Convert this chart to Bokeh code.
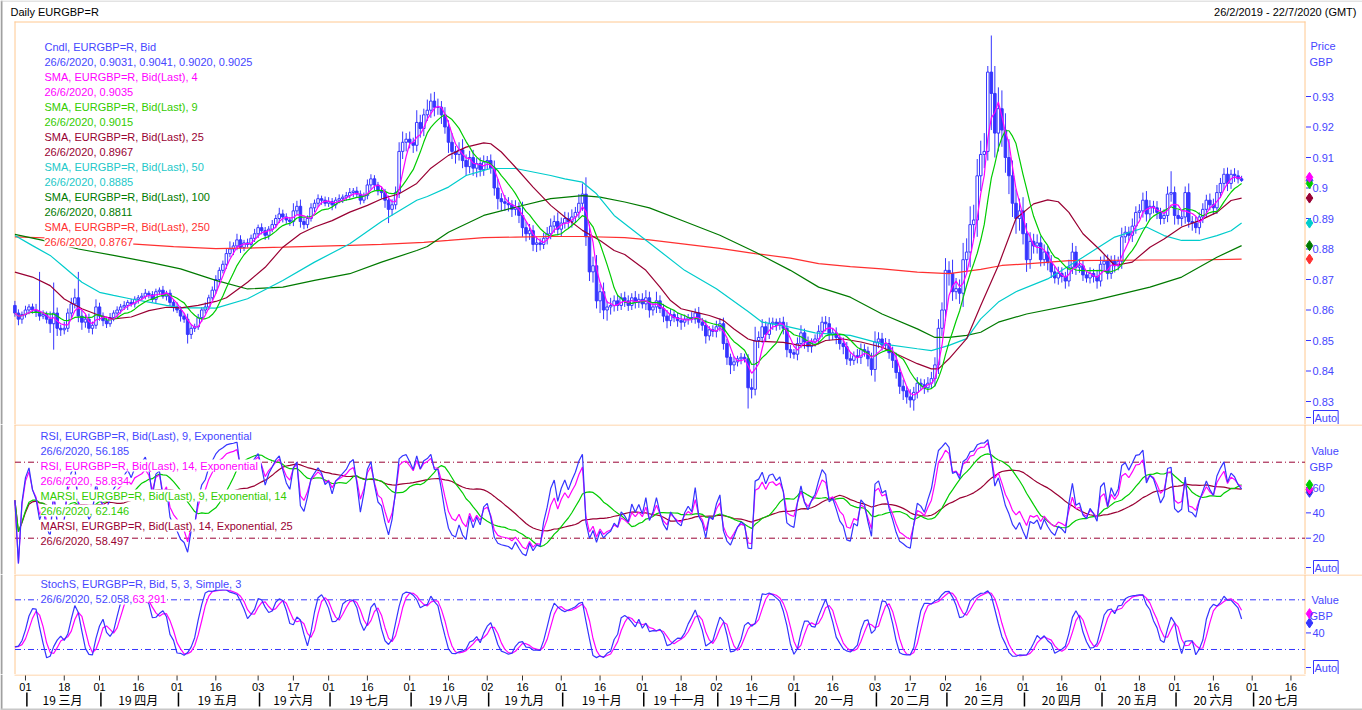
import numpy as np
import pandas as pd
from bokeh.plotting import figure
from bokeh.layouts import column
from bokeh.models import Range1d, Label, ColumnDataSource
from bokeh.core.properties import value
from bokeh.embed import file_html
from bokeh.resources import INLINE

# ---------------------------------------------------------------- data
first_date = "2019-02-26"
last_axis_date = "2020-07-22"
first_open_pips = 8615

# daily closes, EURGBP, in 1/10000 GBP (26/2/2019 .. 26/6/2020)
closes_pips = [
    8590, 8570, 8585, 8600, 8610, 8600, 8595, 8580, 8585, 8570,
    8555, 8590, 8540, 8535, 8540, 8590, 8620, 8640, 8580, 8560,
    8570, 8540, 8550, 8610, 8580, 8565, 8555, 8575, 8590, 8600,
    8610, 8615, 8625, 8620, 8635, 8640, 8645, 8655, 8650, 8635,
    8660, 8665, 8645, 8655, 8625, 8610, 8600, 8580, 8570, 8520,
    8540, 8545, 8575, 8600, 8610, 8640, 8665, 8700, 8730, 8750,
    8785, 8800, 8810, 8830, 8805, 8820, 8815, 8835, 8850, 8870,
    8860, 8845, 8865, 8880, 8900, 8915, 8905, 8895, 8890, 8925,
    8940, 8890, 8880, 8900, 8935, 8950, 8965, 8960, 8950, 8955,
    8945, 8960, 8965, 8970, 8975, 8985, 8990, 8980, 8960, 8975,
    9010, 9030, 9010, 8990, 8985, 8960, 8930, 8945, 8985, 9120,
    9150, 9160, 9150, 9140, 9215, 9195, 9240, 9255, 9285, 9265,
    9265, 9240, 9200, 9150, 9120, 9110, 9125, 9090, 9070, 9100,
    9065, 9080, 9060, 9085, 9090, 9065, 9000, 8965, 8955, 8950,
    8945, 8930, 8935, 8910, 8870, 8850, 8860, 8815, 8820, 8815,
    8835, 8850, 8875, 8890, 8865, 8885, 8900, 8890, 8905, 8920,
    8950, 8980, 8840, 8725, 8745, 8630, 8660, 8600, 8610, 8615,
    8630, 8615, 8640, 8630, 8615, 8640, 8625, 8635, 8620, 8640,
    8600, 8610, 8630, 8605, 8580, 8565, 8585, 8575, 8565, 8560,
    8570, 8575, 8570, 8590, 8560, 8550, 8515, 8535, 8530, 8545,
    8555, 8490, 8445, 8420, 8430, 8440, 8445, 8440, 8345, 8340,
    8500, 8510, 8545, 8520, 8555, 8560, 8550, 8560, 8540, 8470,
    8460, 8455, 8490, 8525, 8495, 8480, 8495, 8505, 8530, 8560,
    8555, 8520, 8525, 8510, 8490, 8480, 8440, 8435, 8450, 8445,
    8470, 8465, 8440, 8405, 8495, 8505, 8485, 8490, 8460, 8435,
    8395, 8350, 8335, 8315, 8305, 8330, 8360, 8355, 8345, 8360,
    8375, 8420, 8540, 8600, 8730, 8720, 8660, 8670, 8655, 8765,
    8790, 8880, 8895, 9040, 9110, 9120, 9380, 9310, 9180, 9260,
    9190, 9100, 9040, 8950, 8900, 8925, 8850, 8765, 8825, 8810,
    8820, 8765, 8790, 8755, 8725, 8705, 8720, 8710, 8695, 8740,
    8790, 8740, 8745, 8715, 8705, 8720, 8710, 8695, 8750, 8760,
    8720, 8760, 8745, 8760, 8840, 8855, 8845, 8875, 8920, 8925,
    8960, 8915, 8940, 8935, 8920, 8900, 8910, 8980, 8985, 8910,
    8900, 8905, 8985, 8890, 8885, 8870, 8905, 8930, 8960, 8945,
    8935, 8985, 9015, 9045, 9015, 9045, 9040, 9030, 9025,
]

# upper / lower shadow lengths of each candle, in 1/10000 GBP
wick_up_pips = [
    15, 12, 10, 14, 9, 11, 20, 130, 14, 10,
    25, 100, 18, 12, 22, 15, 20, 30, 85, 20,
    15, 18, 12, 25, 14, 12, 10, 15, 9, 12,
    10, 14, 8, 12, 10, 9, 11, 14, 8, 12,
    10, 9, 14, 8, 12, 10, 15, 12, 10, 18,
    14, 10, 12, 9, 15, 10, 12, 14, 10, 12,
    18, 25, 12, 20, 15, 10, 14, 12, 16, 10,
    14, 12, 10, 15, 12, 20, 14, 12, 10, 25,
    18, 22, 12, 10, 15, 12, 14, 10, 12, 15,
    12, 10, 14, 9, 12, 15, 10, 14, 12, 10,
    18, 15, 12, 10, 14, 12, 15, 18, 20, 30,
    35, 20, 25, 15, 40, 25, 20, 35, 25, 30,
    28, 20, 25, 22, 30, 18, 25, 35, 20, 22,
    25, 18, 20, 22, 15, 20, 25, 30, 18, 22,
    20, 15, 25, 18, 45, 20, 22, 18, 20, 15,
    18, 22, 25, 20, 30, 18, 22, 20, 25, 18,
    30, 35, 55, 40, 30, 35, 25, 30, 20, 25,
    18, 20, 15, 20, 18, 15, 22, 18, 20, 25,
    20, 15, 30, 18, 15, 20, 18, 12, 15, 20,
    15, 12, 18, 15, 20, 14, 18, 12, 15, 20,
    18, 20, 15, 12, 18, 10, 14, 12, 15, 30,
    45, 20, 25, 18, 20, 15, 12, 14, 18, 20,
    15, 12, 20, 25, 14, 18, 12, 15, 20, 18,
    20, 22, 15, 18, 12, 20, 15, 18, 14, 22,
    20, 18, 15, 20, 35, 22, 20, 18, 15, 20,
    25, 20, 22, 15, 25, 18, 20, 15, 18, 20,
    22, 25, 30, 25, 40, 30, 45, 35, 30, 55,
    45, 60, 50, 55, 45, 60, 20, 120, 90, 70,
    60, 55, 60, 50, 45, 40, 45, 35, 30, 25,
    28, 22, 25, 20, 25, 18, 22, 20, 15, 25,
    30, 20, 22, 18, 15, 20, 15, 22, 25, 20,
    22, 18, 20, 15, 30, 20, 18, 25, 20, 22,
    25, 30, 20, 18, 22, 15, 20, 25, 70, 20,
    18, 22, 20, 30, 18, 22, 15, 20, 18, 22,
    20, 25, 18, 20, 22, 15, 20, 18, 10,
]
wick_dn_pips = [
    12, 20, 15, 10, 14, 12, 18, 15, 10, 14,
    30, 85, 25, 20, 15, 12, 18, 15, 20, 25,
    18, 15, 20, 12, 15, 18, 14, 10, 12, 15,
    12, 10, 15, 9, 12, 14, 8, 10, 12, 9,
    12, 10, 8, 14, 12, 15, 10, 18, 12, 30,
    15, 12, 10, 14, 12, 10, 8, 12, 14, 10,
    15, 12, 20, 14, 18, 12, 10, 15, 12, 14,
    12, 15, 14, 10, 12, 15, 18, 12, 14, 15,
    12, 20, 15, 12, 10, 14, 12, 15, 10, 12,
    18, 12, 10, 14, 12, 10, 15, 12, 14, 10,
    12, 15, 18, 14, 20, 25, 45, 20, 15, 18,
    25, 30, 20, 25, 20, 30, 25, 20, 25, 30,
    25, 30, 22, 35, 25, 30, 20, 25, 30, 22,
    25, 30, 22, 20, 25, 18, 25, 35, 30, 25,
    22, 25, 20, 25, 30, 25, 20, 22, 25, 20,
    15, 20, 18, 22, 20, 25, 18, 22, 20, 18,
    20, 25, 30, 30, 35, 25, 40, 30, 35, 25,
    20, 18, 15, 20, 18, 15, 20, 18, 15, 20,
    25, 18, 20, 15, 20, 25, 18, 15, 20, 25,
    15, 18, 12, 15, 20, 18, 25, 15, 18, 20,
    15, 20, 25, 30, 20, 15, 18, 12, 68, 30,
    20, 25, 18, 22, 15, 20, 18, 15, 20, 25,
    18, 15, 20, 15, 22, 18, 20, 15, 18, 20,
    25, 20, 18, 22, 20, 25, 20, 18, 15, 20,
    22, 18, 25, 20, 40, 20, 18, 15, 20, 25,
    20, 25, 30, 22, 25, 35, 20, 18, 20, 15,
    18, 25, 30, 25, 35, 40, 30, 25, 35, 45,
    40, 50, 45, 55, 50, 45, 30, 120, 80, 60,
    55, 50, 60, 45, 50, 40, 35, 40, 30, 25,
    25, 22, 20, 25, 20, 18, 22, 20, 25, 18,
    22, 25, 18, 20, 15, 18, 20, 25, 18, 22,
    20, 18, 22, 15, 25, 20, 18, 22, 25, 20,
    22, 25, 20, 18, 22, 20, 18, 22, 25, 30,
    20, 25, 22, 20, 25, 18, 22, 20, 25, 18,
    22, 20, 18, 22, 25, 18, 20, 15, 5,
]

# long moving averages (trading-day index, value)
sma25_x = [0, 5, 10, 14, 19, 24, 28, 33, 38, 43, 47, 52, 57, 60, 66, 71, 76, 81, 85, 90,
           95, 100, 104, 109, 114, 118, 123, 128, 133, 135, 138, 142, 147, 152, 156, 161, 166, 170, 173, 179,
           183, 186, 189, 193, 197, 201, 204, 208, 210, 218, 223, 227, 230, 235, 240, 246, 251, 256, 260, 262,
           265, 270, 274, 279, 284, 289, 293, 296, 299, 303, 308, 312, 317, 322, 326, 331, 336, 341, 345, 348]
sma25_y = [0.8724, 0.8708, 0.8680, 0.8636, 0.8604, 0.8582, 0.8571, 0.8577, 0.8598, 0.8609,
           0.8607, 0.8615, 0.8628, 0.8640, 0.8691, 0.8740, 0.8806, 0.8850, 0.8872, 0.8893,
           0.8921, 0.8943, 0.8964, 0.8981, 0.9015, 0.9065, 0.9107, 0.9134, 0.9148, 0.9145,
           0.9118, 0.9068, 0.9003, 0.8943, 0.8905, 0.8861, 0.8828, 0.8795, 0.8782, 0.8730,
           0.8675, 0.8631, 0.8604, 0.8593, 0.8582, 0.8566, 0.8538, 0.8505, 0.8498, 0.8494,
           0.8483, 0.8485, 0.8500, 0.8505, 0.8495, 0.8478, 0.8451, 0.8424, 0.8407, 0.8407,
           0.8440, 0.8506, 0.8615, 0.8746, 0.8900, 0.8948, 0.8961, 0.8955, 0.8920, 0.8850,
           0.8795, 0.8746, 0.8757, 0.8806, 0.8833, 0.8872, 0.8893, 0.8920, 0.8959, 0.8967]
sma50_x = [0, 5, 10, 14, 19, 24, 28, 33, 38, 43, 47, 52, 57, 66, 76, 85, 95, 104, 114, 117,
           123, 128, 133, 135, 142, 152, 156, 161, 165, 170, 173, 190, 199, 208, 212, 218, 227, 237, 246, 256,
           260, 265, 270, 274, 279, 284, 293, 303, 312, 321, 326, 331, 336, 341, 345, 348]
sma50_y = [0.8844, 0.8811, 0.8779, 0.8740, 0.8691, 0.8658, 0.8648, 0.8636, 0.8626, 0.8615,
           0.8607, 0.8607, 0.8606, 0.8637, 0.8697, 0.8757, 0.8817, 0.8890, 0.8960, 0.8972,
           0.9003, 0.9041, 0.9058, 0.9064, 0.9064, 0.9041, 0.9030, 0.9019, 0.8981, 0.8910,
           0.8883, 0.8730, 0.8670, 0.8595, 0.8560, 0.8549, 0.8525, 0.8517, 0.8489, 0.8473,
           0.8467, 0.8484, 0.8506, 0.8571, 0.8626, 0.8660, 0.8702, 0.8773, 0.8839, 0.8872,
           0.8844, 0.8828, 0.8828, 0.8844, 0.8860, 0.8885]
sma100_x = [0, 8, 18, 28, 38, 47, 57, 66, 76, 85, 95, 104, 114, 117, 123, 133, 142, 152, 161, 166,
            173, 180, 190, 200, 210, 220, 228, 237, 246, 256, 261, 265, 270, 274, 279, 287, 306, 322, 331, 341,
            348]
sma100_y = [0.8848, 0.8828, 0.8800, 0.8779, 0.8757, 0.8735, 0.8697, 0.8669, 0.8675, 0.8697,
            0.8719, 0.8757, 0.8795, 0.8808, 0.8855, 0.8910, 0.8937, 0.8965, 0.8975, 0.8970,
            0.8954, 0.8935, 0.8890, 0.8845, 0.8790, 0.8730, 0.8675, 0.8642, 0.8587, 0.8538,
            0.8510, 0.8510, 0.8517, 0.8527, 0.8560, 0.8587, 0.8631, 0.8675, 0.8708, 0.8773,
            0.8811]
sma250_x = [0, 10, 20, 33, 45, 57, 76, 95, 104, 116, 123, 133, 142, 152, 161, 173, 180, 190, 200, 210,
            220, 228, 237, 246, 256, 265, 274, 280, 287, 299, 322, 335, 348]
sma250_y = [0.8840, 0.8836, 0.8832, 0.8817, 0.8808, 0.8801, 0.8806, 0.8812, 0.8815, 0.8822,
            0.8828, 0.8837, 0.8839, 0.8841, 0.8841, 0.8837, 0.8830, 0.8816, 0.8802, 0.8785,
            0.8770, 0.8752, 0.8742, 0.8735, 0.8724, 0.8719, 0.8733, 0.8746, 0.8751, 0.8762,
            0.8764, 0.8764, 0.8767]

# last values shown in the legends / right-hand markers
main_last = {"cndl": 0.9025, "sma4": 0.9035, "sma9": 0.9015, "sma25": 0.8967,
             "sma50": 0.8885, "sma100": 0.8811, "sma250": 0.8767}
rsi_last = {"rsi9": 56.185, "rsi14": 58.834, "marsi9": 62.146, "marsi14": 58.497}
stoch_last = {"k": 52.058, "d": 63.291}

price_ticks = [0.83, 0.84, 0.85, 0.86, 0.87, 0.88, 0.89, 0.90, 0.91, 0.92, 0.93]
price_tick_labels = ["0.83", "0.84", "0.85", "0.86", "0.87", "0.88", "0.89", "0.9", "0.91", "0.92", "0.93"]
rsi_ticks = [20, 40, 60]
rsi_tick_labels = ["20", "40", "60"]
rsi_levels = [80, 20]
stoch_ticks = [40]
stoch_tick_labels = ["40"]
stoch_levels = [80, 20]
month_labels = ["19 三月", "19 四月", "19 五月", "19 六月", "19 七月", "19 八月", "19 九月",
                "19 十月", "19 十一月", "19 十二月", "20 一月", "20 二月", "20 三月", "20 四月",
                "20 五月", "20 六月", "20 七月"]

# ---------------------------------------------------------------- colours
BLUE = "#3535ff"
BLUE_TXT = "#4646ff"
MAGENTA = "#ff00ff"
GREEN = "#00cc00"
GREEN_TXT = "#33cc00"
MAROON = "#990033"
CYAN = "#00cccc"
CYAN_TXT = "#22c8c8"
DKGREEN = "#007a00"
RED = "#ff3030"
ORANGE = "#ffc890"
GREY = "#a0a0a0"
FONT = "Liberation Sans"

# ---------------------------------------------------------------- derived series
dates = pd.bdate_range(first_date, last_axis_date)
close = np.array(closes_pips) / 1e4
n = len(close)
idx = np.arange(n)
open_ = np.concatenate([[first_open_pips / 1e4], close[:-1]])
high = np.maximum(open_, close) + np.array(wick_up_pips) / 1e4
low = np.minimum(open_, close) - np.array(wick_dn_pips) / 1e4

s = pd.Series(close)
sma4 = s.rolling(4, min_periods=1).mean()
sma9 = s.rolling(9, min_periods=1).mean()

d = s.diff().fillna(0.0)


def rsi(period):
    g = d.clip(lower=0).ewm(span=period, adjust=False).mean()
    l_ = (-d.clip(upper=0)).ewm(span=period, adjust=False).mean()
    return (100 * g / (g + l_)).fillna(50.0)


rsi9 = rsi(9)
rsi14 = rsi(14)
marsi9 = rsi9.rolling(14, min_periods=1).mean()
marsi14 = rsi14.rolling(25, min_periods=1).mean()

hh = pd.Series(high).rolling(5, min_periods=1).max()
ll = pd.Series(low).rolling(5, min_periods=1).min()
fast_k = 100 * (s - ll) / (hh - ll)
slow_k = fast_k.rolling(3, min_periods=1).mean()
slow_d = slow_k.rolling(3, min_periods=1).mean()

# ---------------------------------------------------------------- geometry
W = 1362
PX_PER_DAY = 3.525
X0_PX = 14.4               # pixel of trading day 0
L_PX, R_PX = 14.5, 1304.5  # panel frame borders (pixels)


def xi(px):
    return (px - X0_PX) / PX_PER_DAY


xr = Range1d(xi(0), xi(W))


def make_fig(top_px, bot_px, yv):
    """Figure covering page rows top_px..bot_px; yv maps a page row to a data value."""
    p = figure(width=W, height=bot_px - top_px, x_range=xr,
               y_range=Range1d(yv(bot_px), yv(top_px)),
               output_backend="svg", toolbar_location=None,
               x_axis_location=None, y_axis_location=None,
               min_border=0, min_border_left=0, min_border_right=0,
               min_border_top=0, min_border_bottom=0)
    p.grid.visible = False
    p.outline_line_color = None
    p.background_fill_color = "white"
    p.border_fill_color = "white"
    # window edge
    p.segment(x0=[xi(1)], y0=[yv(top_px)], x1=[xi(1)], y1=[yv(bot_px)], line_color=GREY, line_width=2)
    return p


def label(p, text, x, y, color, y_units="screen", size="11px", align="left",
          font=FONT, bg=None, border=None, **kw):
    p.add_layout(Label(x=x, y=y, x_units="screen", y_units=y_units, text=text,
                       text_color=color, text_font=font, text_font_size=size,
                       text_align=align, text_baseline="middle",
                       background_fill_color=bg, border_line_color=border, **kw))


def frame_lines(p, yv, top_px, bot_px, top_line_to):
    # top border / separator
    p.segment(x0=[xi(L_PX - 0.5)], y0=[yv(top_px + 0.5)], x1=[xi(top_line_to)], y1=[yv(top_px + 0.5)],
              line_color=ORANGE, line_width=1)
    # left and right borders
    p.segment(x0=[xi(L_PX), xi(R_PX)], y0=[yv(top_px), yv(top_px)],
              x1=[xi(L_PX), xi(R_PX)], y1=[yv(bot_px), yv(bot_px)],
              line_color=ORANGE, line_width=1)


def right_axis(p, yv, fig_h, fig_top, ticks, tick_labels, head, auto_px, diamonds):
    auto_val = yv(auto_px)
    all_ticks = list(ticks) + [auto_val]
    p.segment(x0=[xi(1305.5)] * len(all_ticks), y0=all_ticks,
              x1=[xi(1310.5)] * len(all_ticks), y1=all_ticks, line_color=BLUE, line_width=1)
    for t, tl in zip(ticks, tick_labels):
        label(p, tl, 1312, t, BLUE_TXT, y_units="data")
    label(p, head[0], head[1], fig_h - (head[2] - fig_top), BLUE_TXT)
    label(p, "GBP", 1309, fig_h - (head[3] - fig_top), BLUE_TXT)
    label(p, "Auto", 1313, fig_h - (auto_px - fig_top), BLUE_TXT, bg="white",
          border=BLUE, padding=1)
    for val, col in diamonds:
        p.scatter([xi(1309)], [val], marker="diamond", size=10, fill_color=col,
                  line_color=col)


# ---- main price panel (page rows 0..424, frame starts at row 21)
def yv_main(py):
    return 0.93 - (py - 96) / 3050.0


p_main = make_fig(0, 424, yv_main)
p_main.segment(x0=[xi(0)], y0=[yv_main(0.5)], x1=[xi(W)], y1=[yv_main(0.5)], line_color="#c8c8c8")
frame_lines(p_main, yv_main, 21, 424, R_PX + 0.5)

p_main.segment(x0=idx, y0=low, x1=idx, y1=high, line_color=BLUE, line_width=1)
up = close >= open_
src_up = ColumnDataSource(dict(x=idx[up], top=close[up], bottom=open_[up]))
src_dn = ColumnDataSource(dict(x=idx[~up], top=open_[~up], bottom=close[~up]))
p_main.vbar(x="x", top="top", bottom="bottom", width=0.72, fill_color="white",
            line_color=BLUE, line_width=1, source=src_up)
p_main.vbar(x="x", top="top", bottom="bottom", width=0.72, fill_color=BLUE,
            line_color=BLUE, line_width=1, source=src_dn)

p_main.line(sma250_x, sma250_y, line_color=RED, line_width=1.2)
p_main.line(sma100_x, sma100_y, line_color=DKGREEN, line_width=1.2)
p_main.line(sma50_x, sma50_y, line_color=CYAN, line_width=1.2)
p_main.line(sma25_x, sma25_y, line_color=MAROON, line_width=1.2)
p_main.line(idx, sma9.values, line_color=GREEN, line_width=1.2)
p_main.line(idx, sma4.values, line_color=MAGENTA, line_width=1.2)

main_legend = [
    ("Cndl, EURGBP=R, Bid", BLUE_TXT),
    ("26/6/2020, 0.9031, 0.9041, 0.9020, 0.9025", BLUE_TXT),
    ("SMA, EURGBP=R, Bid(Last),  4", MAGENTA),
    ("26/6/2020, 0.9035", MAGENTA),
    ("SMA, EURGBP=R, Bid(Last),  9", GREEN_TXT),
    ("26/6/2020, 0.9015", GREEN_TXT),
    ("SMA, EURGBP=R, Bid(Last),  25", MAROON),
    ("26/6/2020, 0.8967", MAROON),
    ("SMA, EURGBP=R, Bid(Last),  50", CYAN_TXT),
    ("26/6/2020, 0.8885", CYAN_TXT),
    ("SMA, EURGBP=R, Bid(Last),  100", DKGREEN),
    ("26/6/2020, 0.8811", DKGREEN),
    ("SMA, EURGBP=R, Bid(Last),  250", RED),
    ("26/6/2020, 0.8767", RED),
]
for k, (t, c) in enumerate(main_legend):
    label(p_main, t, 44, 424 - 46 - 15 * k, c, bg="white")

label(p_main, "Daily EURGBP=R", 10, 424 - 11, "black")
label(p_main, "26/2/2019 - 22/7/2020 (GMT)", 1356, 424 - 11, "black", align="right")
right_axis(p_main, yv_main, 424, 0, price_ticks, price_tick_labels,
           ("Price", 1310, 45, 61), 417,
           [(main_last["cndl"], BLUE), (main_last["sma250"], RED),
            (main_last["sma100"], DKGREEN), (main_last["sma50"], CYAN),
            (main_last["sma25"], MAROON), (main_last["sma9"], GREEN),
            (main_last["sma4"], MAGENTA)])


# ---- RSI panel (page rows 424..574)
def yv_rsi(py):
    return 80 - (py - 461.7) / 1.2667


p_rsi = make_fig(424, 574, yv_rsi)
frame_lines(p_rsi, yv_rsi, 424, 574, W)
p_rsi.segment(x0=[xi(L_PX)] * 2, y0=rsi_levels, x1=[xi(R_PX)] * 2, y1=rsi_levels,
              line_color=MAROON, line_dash="6 3 1 3", line_width=1)
p_rsi.line(idx, marsi14.values, line_color=MAROON, line_width=1.2)
p_rsi.line(idx, marsi9.values, line_color=GREEN, line_width=1.2)
p_rsi.line(idx, rsi14.values, line_color=MAGENTA, line_width=1.2)
p_rsi.line(idx, rsi9.values, line_color=BLUE, line_width=1.2)
rsi_legend = [
    ("RSI, EURGBP=R, Bid(Last),  9, Exponential", BLUE_TXT),
    ("26/6/2020, 56.185", BLUE_TXT),
    ("RSI, EURGBP=R, Bid(Last),  14, Exponential", MAGENTA),
    ("26/6/2020, 58.834", MAGENTA),
    ("MARSI, EURGBP=R, Bid(Last),  9, Exponential, 14", GREEN_TXT),
    ("26/6/2020, 62.146", GREEN_TXT),
    ("MARSI, EURGBP=R, Bid(Last),  14, Exponential, 25", MAROON),
    ("26/6/2020, 58.497", MAROON),
]
for k, (t, c) in enumerate(rsi_legend):
    label(p_rsi, t, 40, 150 - (435 - 424) - 15 * k, c, bg="white")
right_axis(p_rsi, yv_rsi, 150, 424, rsi_ticks, rsi_tick_labels,
           ("Value", 1311, 450, 466), 567,
           [(rsi_last["rsi9"], BLUE), (rsi_last["marsi14"], MAROON),
            (rsi_last["rsi14"], MAGENTA), (rsi_last["marsi9"], GREEN)])


# ---- Stochastic panel (page rows 574..674)
def yv_sto(py):
    return 80 - (py - 599.3) / 0.8283


p_sto = make_fig(574, 674, yv_sto)
frame_lines(p_sto, yv_sto, 574, 674, W)
p_sto.segment(x0=[xi(L_PX)] * 2, y0=stoch_levels, x1=[xi(R_PX)] * 2, y1=stoch_levels,
              line_color=BLUE, line_dash="6 3 1 3", line_width=1)
p_sto.line(idx, slow_d.values, line_color=MAGENTA, line_width=1.2)
p_sto.line(idx, slow_k.values, line_color=BLUE, line_width=1.2)
label(p_sto, "StochS, EURGBP=R, Bid,  5, 3, Simple, 3", 40, 100 - (583 - 574), BLUE_TXT, bg="white")
label(p_sto, "26/6/2020, 52.058, ", 40, 100 - (598 - 574), BLUE_TXT, bg="white")
label(p_sto, "63.291", 132, 100 - (598 - 574), MAGENTA, bg="white")
right_axis(p_sto, yv_sto, 100, 574, stoch_ticks, stoch_tick_labels,
           ("Value", 1311, 599, 615), 667,
           [(stoch_last["k"], BLUE), (stoch_last["d"], MAGENTA)])


# ---- date axis strip (page rows 674..710; data y = page row)
def yv_date(py):
    return py


p_date = make_fig(674, 710, lambda py: -py)
p_date.y_range = Range1d(-710, -674)
# bottom border of the stochastic panel
p_date.segment(x0=[xi(L_PX - 0.5)], y0=[-674.5], x1=[xi(R_PX + 0.5)], y1=[-674.5],
               line_color=ORANGE, line_width=1)
p_date.segment(x0=[xi(0)], y0=[-709], x1=[xi(W)], y1=[-709], line_color="#c8c8c8", line_width=2)

months = pd.date_range("2019-03-01", "2020-07-01", freq="MS")
tick_idx, tick_lbl = [], []
for m in months:
    for dd in (1, 16):
        k = int(dates.searchsorted(m + pd.Timedelta(days=dd - 1)))
        if k < len(dates):
            tick_idx.append(k)
            tick_lbl.append(f"{dates[k].day:02d}")
month_start = [int(dates.searchsorted(m)) for m in months]
month_end = month_start[1:] + [xi(R_PX)]
month_mid = [(a + b) / 2 for a, b in zip(month_start, month_end)]

p_date.segment(x0=tick_idx, y0=[-675] * len(tick_idx), x1=tick_idx, y1=[-680] * len(tick_idx),
               line_color="#333333", line_width=1)
p_date.text(x=tick_idx, y=[-686] * len(tick_idx), text=tick_lbl, text_font=value(FONT),
            text_font_size="11px", text_align="center", text_baseline="middle",
            text_color="black")
bar_x = [m + 0.4 for m in month_start]
p_date.segment(x0=bar_x, y0=[-692] * len(bar_x), x1=bar_x, y1=[-706] * len(bar_x),
               line_color="black", line_width=1.5)
p_date.text(x=month_mid, y=[-699] * len(month_mid), text=month_labels,
            text_font=value("Noto Sans CJK SC"), text_font_size="12px",
            text_align="center", text_baseline="middle", text_color="black")

layout = column(p_main, p_rsi, p_sto, p_date, spacing=0)
open("out.html", "w").write(file_html(layout, INLINE))
